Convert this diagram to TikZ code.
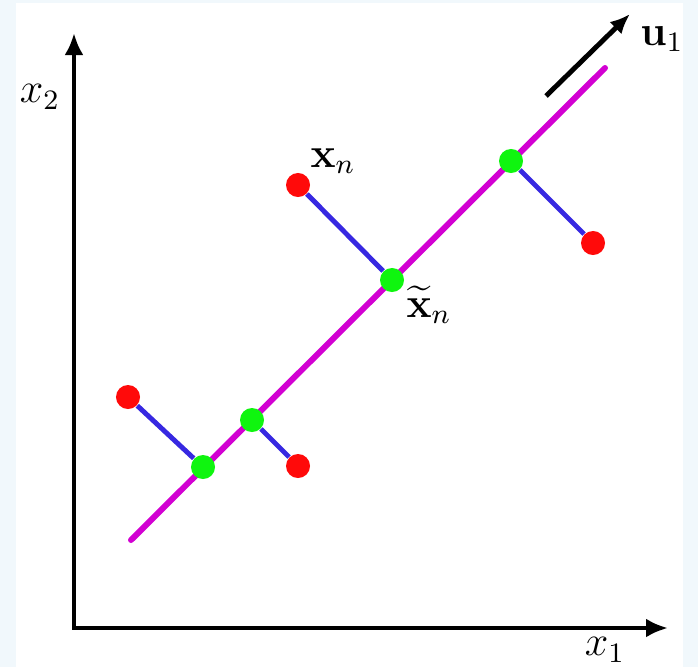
\documentclass[tikz,border=0pt]{standalone}
\usepackage{tikz}
\usetikzlibrary{arrows.meta, backgrounds}
\usepackage{amsmath}
\definecolor{framecolor}{RGB}{241,248,252}
\definecolor{linecolor}{RGB}{210,0,210}
\definecolor{projcolor}{RGB}{55,40,225}
\definecolor{datacolor}{RGB}{255,10,10}
\definecolor{pointcolor}{RGB}{15,245,15}

\begin{document}
\begin{tikzpicture}[
    x=0.01cm, y=-0.01cm,
    axis/.style={-{Latex[length=0.22cm, width=0.19cm]}, line width=1.4pt},
    direction/.style={-{Latex[length=0.2cm, width=0.17cm]}, line width=1.4pt},
    pline/.style={draw=linecolor, line width=1.7pt, line cap=round},
    proj/.style={draw=projcolor, line width=1.4pt},
    data/.style={circle, fill=datacolor, minimum size=0.24cm, inner sep=0pt},
    projpt/.style={circle, fill=pointcolor, minimum size=0.24cm, inner sep=0pt},
    lbl/.style={font=\large, inner sep=1pt}
]

    \useasboundingbox (0,0) rectangle (698,667);

    % Axes
    \coordinate (origin) at (74,628);
    \coordinate (yend) at (74,33);
    \coordinate (xend) at (668,628);
    \draw[axis] (origin) -- (yend);
    \draw[axis] (origin) ++(-2,0) -- (xend);
    \node[lbl] (xtwo) at (40,97) {$x_2$};
    \node[lbl] (xone) at (605,650) {$x_1$};

    % Principal direction
    \coordinate (ustart) at (546,96);
    \coordinate (uend) at (630,14);
    \draw[direction] (ustart) -- (uend);
    \node[lbl] (ulabel) at (662,39) {$\mathbf{u}_1$};

    % Projected points
    \node[projpt] (pa) at (203,467) {};
    \node[projpt] (pb) at (252,420) {};
    \node[projpt] (pc) at (392,280) {};
    \node[projpt] (pd) at (511,161) {};

    % Data points
    \node[data] (da) at (128,397) {};
    \node[data] (db) at (298,466) {};
    \node[data] (dc) at (298,185) {};
    \node[data] (dd) at (593,243) {};

    % Labels
    \node[lbl] (xn) at (333,161) {$\mathbf{x}_n$};
    \node[lbl] (xtn) at (429,305) {$\widetilde{\mathbf{x}}_n$};

    % Frame, subspace and projections behind the points
    \coordinate (lineA) at (131,540);
    \coordinate (lineB) at (605,68);
    \begin{scope}[on background layer]
        \fill[framecolor] (0,0) rectangle (698,667);
        \fill[white] (16,3) rectangle (683,667);
        \draw[pline] (lineA) -- (lineB);
        \draw[proj] (da) -- (pa);
        \draw[proj] (db) -- (pb);
        \draw[proj] (dc) -- (pc);
        \draw[proj] (dd) -- (pd);
    \end{scope}

\end{tikzpicture}
\end{document}
